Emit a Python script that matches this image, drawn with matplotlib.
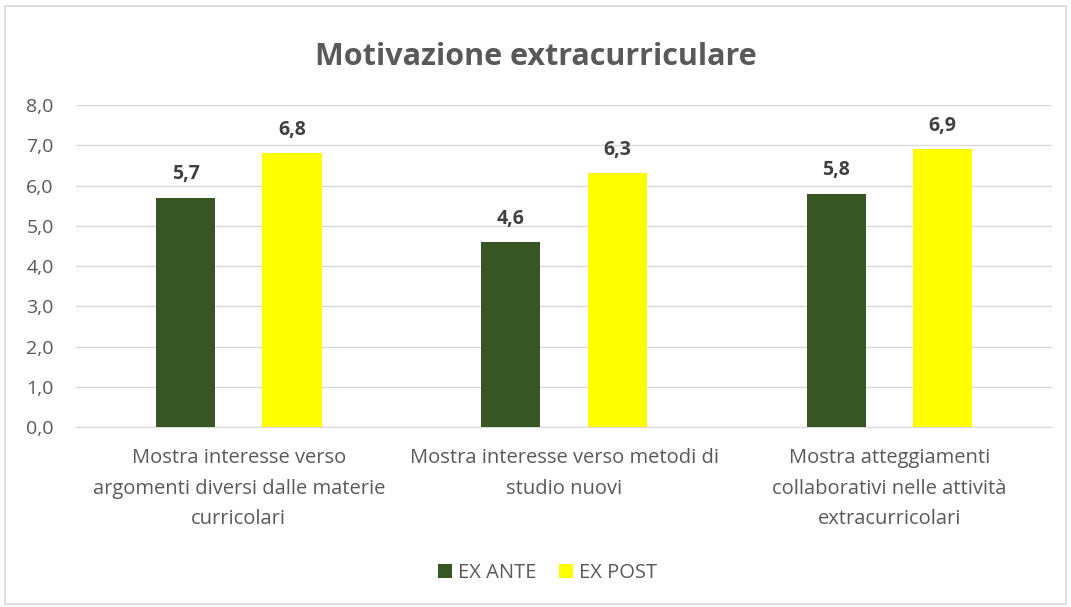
import matplotlib
matplotlib.use("Agg")
import matplotlib.pyplot as plt
import numpy as np
from matplotlib.patches import Rectangle

categories = [
    "Mostra interesse verso\nargomenti diversi dalle materie\ncurricolari",
    "Mostra interesse verso metodi di\nstudio nuovi",
    "Mostra atteggiamenti\ncollaborativi nelle attività\nextracurricolari",
]
series_names = ["EX ANTE", "EX POST"]
ex_ante = [5.7, 4.6, 5.8]
ex_post = [6.8, 6.3, 6.9]
colors = ["#375623", "#FFFF00"]
yticks = [0, 1, 2, 3, 4, 5, 6, 7, 8]

plt.rcParams['font.family'] = ['Open Sans', 'DejaVu Sans']
text_col = "#595959"

fig = plt.figure(figsize=(10.71, 6.07), dpi=100)
fig.patches.append(Rectangle((0.005, 0.005), 0.99, 0.985, transform=fig.transFigure,
                             fill=False, edgecolor="#d9d9d9", linewidth=1.2))
ax = fig.add_axes([0.071, 0.2965, 0.9113, 0.5305])

x = np.arange(len(categories))
w = 0.182
off = (w + 0.145) / 2
b1 = ax.bar(x - off, ex_ante, w, color=colors[0], label=series_names[0], zorder=3)
b2 = ax.bar(x + off, ex_post, w, color=colors[1], label=series_names[1], zorder=3)

for bars in (b1, b2):
    for rect in bars:
        h = rect.get_height()
        ax.annotate(f"{h:.1f}".replace(".", ","), (rect.get_x() + rect.get_width() / 2, h),
                    xytext=(0, 9.5), textcoords="offset points", ha="center", va="bottom",
                    fontsize=14, fontweight="bold", color="#404040")

ax.set_xlim(-0.5, 2.5)
ax.set_ylim(0, 8)
ax.set_yticks(yticks)
ax.set_yticklabels([f"{v:.1f}".replace(".", ",") for v in yticks], fontsize=14, color=text_col)
ax.set_xticks(x)
ax.set_xticklabels(categories, fontsize=14.5, color=text_col, linespacing=1.72)
ax.tick_params(axis="both", length=0)
ax.tick_params(axis="x", pad=15)
ax.tick_params(axis="y", pad=16)
ax.grid(axis="y", color="#d9d9d9", linewidth=1, zorder=0)
for s in ["top", "right", "left"]:
    ax.spines[s].set_visible(False)
ax.spines["bottom"].set_color("#d9d9d9")

fig.text(0.5, 0.906, "Motivazione extracurriculare", ha="center", va="center",
         fontsize=22, fontweight="bold", color=text_col)

leg = fig.legend(handles=[b1, b2], labels=series_names, loc="center", bbox_to_anchor=(0.511, 0.056),
                 ncol=2, frameon=False, fontsize=14.5, handlelength=0.7, handleheight=0.7,
                 handletextpad=0.3, columnspacing=1.1)
for t in leg.get_texts():
    t.set_color(text_col)

fig.savefig("out.png", dpi=100)
